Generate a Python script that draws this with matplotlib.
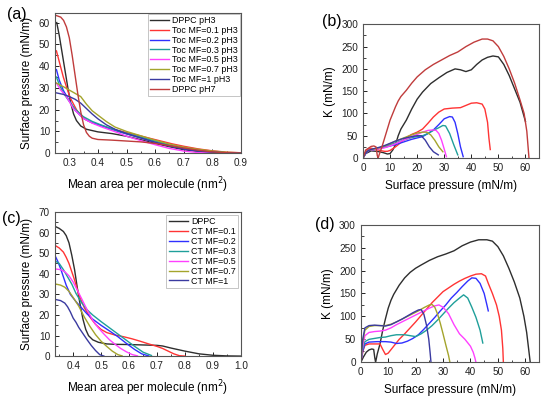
import matplotlib
matplotlib.use("Agg")
import matplotlib.pyplot as plt
from matplotlib.ticker import AutoMinorLocator, MultipleLocator

plt.rcParams['font.family'] = ['Liberation Sans', 'DejaVu Sans']

# ---------------- colours ----------------
C_BLACK = '#2e2e2e'
C_RED = '#ff3434'
C_BLUE = '#3030ff'
C_TEAL = '#1f9f9a'
C_MAG = '#ff40ff'
C_OLIVE = '#a4a42c'
C_NAVY = '#3a3aa0'
C_DRED = '#c03c3c'

# ---------------- panel (a) data ----------------
a_labels = ['DPPC pH3', 'Toc MF=0.1 pH3', 'Toc MF=0.2 pH3', 'Toc MF=0.3 pH3',
            'Toc MF=0.5 pH3', 'Toc MF=0.7 pH3', 'Toc MF=1 pH3', 'DPPC pH7']
a_dppc3_x = [0.256, 0.265, 0.275, 0.285, 0.295, 0.305, 0.315, 0.325, 0.34, 0.36, 0.40, 0.45, 0.50, 0.55, 0.60, 0.65, 0.70, 0.75, 0.80, 0.85, 0.90]
a_dppc3_y = [60, 54, 46, 38, 30, 23, 18, 15, 12.5, 11, 9.8, 9.0, 7.8, 6.2, 4.5, 3.0, 1.6, 0.8, 0.3, 0.1, 0.05]
a_mf01_x = [0.255, 0.265, 0.279, 0.29, 0.302, 0.315, 0.326, 0.34, 0.36, 0.38, 0.407, 0.435, 0.465, 0.50, 0.535, 0.58, 0.62, 0.66, 0.70, 0.75, 0.80, 0.85, 0.90]
a_mf01_y = [47, 42, 35, 30.5, 25.8, 22.5, 19.8, 17.5, 15.2, 14, 12.9, 11.8, 10.6, 9.5, 8.4, 6.9, 5.6, 4.3, 3.2, 2.0, 1.1, 0.5, 0.2]
a_mf02_x = [0.255, 0.265, 0.279, 0.296, 0.32, 0.349, 0.38, 0.407, 0.44, 0.47, 0.512, 0.55, 0.60, 0.65, 0.70, 0.75, 0.80, 0.85, 0.90]
a_mf02_y = [38.4, 33.5, 28.9, 25, 19.8, 16, 14, 12.9, 11.3, 10, 8.4, 7, 5.1, 3.4, 2.0, 1.1, 0.5, 0.2, 0.1]
a_mf03_x = [0.255, 0.265, 0.28, 0.296, 0.32, 0.349, 0.38, 0.407, 0.44, 0.47, 0.51, 0.55, 0.60, 0.65, 0.70, 0.75, 0.80, 0.85, 0.90]
a_mf03_y = [35, 31.5, 27.5, 24.5, 20.3, 16.8, 14.6, 13.2, 11.6, 10.3, 8.8, 7.4, 5.6, 3.8, 2.3, 1.3, 0.6, 0.2, 0.1]
a_mf05_x = [0.255, 0.27, 0.29, 0.314, 0.349, 0.38, 0.41, 0.44, 0.47, 0.50, 0.55, 0.60, 0.65, 0.70, 0.75, 0.80]
a_mf05_y = [32.2, 29, 26, 20.5, 16, 13.8, 12.2, 10.8, 9.4, 7.8, 5.8, 3.9, 2.2, 1.0, 0.3, 0.1]
a_mf07_x = [0.255, 0.28, 0.30, 0.32, 0.34, 0.36, 0.38, 0.40, 0.43, 0.46, 0.50, 0.55, 0.60, 0.65, 0.70, 0.75, 0.80, 0.85, 0.90]
a_mf07_y = [32.2, 30.5, 29, 27.5, 26, 22.5, 19.5, 17.5, 14.5, 12, 10, 8, 6, 4.2, 2.8, 1.8, 1.0, 0.4, 0.2]
a_mf1_x = [0.255, 0.28, 0.30, 0.32, 0.34, 0.36, 0.38, 0.40, 0.43, 0.46, 0.50, 0.55, 0.60, 0.65, 0.70, 0.75, 0.80, 0.85, 0.90]
a_mf1_y = [27.7, 27, 26, 24.8, 23, 20.5, 18, 15.8, 13, 11, 9, 7, 5, 3.3, 2, 1, 0.5, 0.2, 0.1]
a_dppc7_x = [0.255, 0.27, 0.28, 0.29, 0.30, 0.31, 0.32, 0.33, 0.34, 0.35, 0.36, 0.37, 0.38, 0.40, 0.45, 0.50, 0.55, 0.60, 0.65, 0.70, 0.75, 0.80, 0.85, 0.90]
a_dppc7_y = [63.2, 62.5, 61, 58, 53, 45, 36, 27, 19, 13, 9.5, 7.8, 6.9, 6.3, 6.0, 5.6, 5.2, 4.5, 3.5, 2.4, 1.4, 0.6, 0.2, 0.1]

# ---------------- panel (b) data ----------------
b_dppc3_x = [0, 1, 3, 5, 6, 7.5, 9, 10, 11, 12, 13, 14, 16, 18, 20, 22, 25, 28, 31, 34, 36, 38, 40, 42, 44, 46, 48, 50, 52, 54, 56, 58, 60]
b_dppc3_y = [0, 10, 16, 15, 14, 12, 9, 10, 18, 30, 50, 65, 85, 110, 132, 148, 167, 180, 192, 200, 198, 194, 198, 210, 220, 226, 229, 227, 210, 185, 155, 125, 82]
b_mf01_x = [0, 1, 2, 3, 5, 7, 8, 9, 10, 12, 14, 16, 18, 20, 22, 24, 26, 28, 30, 33, 36, 38, 40, 42, 44, 45, 46, 46.5, 47]
b_mf01_y = [0, 14, 20, 22, 19, 16, 15, 15, 17, 25, 35, 46, 53, 58, 65, 78, 92, 103, 110, 112, 113, 118, 123, 124, 121, 110, 80, 45, 19]
b_mf02_x = [0, 1, 2, 4, 6, 8, 10, 12, 15, 18, 20, 22, 24, 26, 28, 30, 32, 33, 34, 35, 36, 37]
b_mf02_y = [0, 10, 16, 19, 22, 24, 27, 30, 36, 42, 45, 48, 55, 63, 75, 88, 93, 92, 80, 55, 25, 3]
b_mf03_x = [0, 1, 2, 4, 6, 8, 10, 12, 15, 18, 20, 22, 24, 26, 28, 29.5, 30.5, 32, 33.5, 35]
b_mf03_y = [0, 12, 17, 20, 23, 26, 30, 34, 40, 46, 48, 50, 55, 62, 68, 73, 72, 55, 30, 7]
b_mf05_x = [0, 1, 2, 4, 6, 8, 10, 12, 15, 18, 20, 22, 24, 26, 27, 28, 29, 30, 30.8]
b_mf05_y = [0, 12, 17, 19, 21, 23, 27, 32, 40, 48, 53, 58, 62, 63, 62, 55, 40, 20, 3]
b_mf07_x = [0, 1, 2, 4, 6, 8, 10, 12, 15, 18, 20, 22, 23.5, 25, 26.5, 28, 29.5]
b_mf07_y = [0, 12, 17, 20, 23, 27, 32, 38, 45, 52, 56, 58, 58, 52, 40, 25, 14]
b_mf1_x = [0, 1, 2, 4, 6, 8, 10, 12, 15, 18, 20, 21.5, 23, 24.5, 26, 27.8]
b_mf1_y = [0, 12, 17, 21, 24, 28, 33, 38, 44, 48, 50, 50, 40, 25, 14, 7]
b_dppc7_x = [0, 1, 2, 3, 4, 4.8, 5.3, 5.6, 6, 7, 8, 9, 10, 11, 12, 13, 14, 16, 18, 20, 23, 26, 29, 32, 35, 38, 41, 44, 46, 48, 50, 52, 54, 56, 58, 59.5, 60.5, 61.3]
b_dppc7_y = [0, 18, 22, 26, 27, 25, 5, 0, 8, 25, 45, 65, 85, 100, 115, 128, 138, 152, 168, 182, 198, 210, 220, 230, 238, 250, 260, 267, 267, 263, 250, 228, 200, 168, 130, 100, 60, 0]

# ---------------- panel (c) data ----------------
c_labels = ['DPPC', 'CT MF=0.1', 'CT MF=0.2', 'CT MF=0.3', 'CT MF=0.5', 'CT MF=0.7', 'CT MF=1']
c_dppc_x = [0.338, 0.35, 0.365, 0.375, 0.385, 0.395, 0.405, 0.415, 0.425, 0.435, 0.445, 0.455, 0.47, 0.49, 0.52, 0.55, 0.60, 0.65, 0.70, 0.72, 0.75, 0.80, 0.85, 0.90, 0.95, 1.0]
c_dppc_y = [62.8, 62, 60.5, 58.5, 55, 49, 42, 33, 25, 18, 13, 10, 8, 6.8, 6, 5.8, 5.7, 5.5, 5.3, 5.0, 4.0, 2.5, 1.2, 0.5, 0.2, 0.1]
c_mf01_x = [0.338, 0.35, 0.365, 0.375, 0.385, 0.395, 0.405, 0.42, 0.44, 0.46, 0.48, 0.50, 0.52, 0.55, 0.58, 0.61, 0.64, 0.67, 0.70, 0.72, 0.74, 0.76, 0.78, 0.80]
c_mf01_y = [53.5, 52.5, 50.5, 48, 45, 41, 37, 30, 23.5, 19, 15.5, 13, 11.5, 10.3, 9.5, 8.5, 7.3, 6, 4.8, 3.8, 2.5, 1.2, 0.3, 0.1]
c_mf02_x = [0.338, 0.345, 0.355, 0.365, 0.375, 0.39, 0.41, 0.43, 0.45, 0.47, 0.50, 0.53, 0.56, 0.59, 0.62, 0.645, 0.67]
c_mf02_y = [48, 46, 42.5, 38.5, 34.5, 30, 26.5, 23.5, 20.5, 18, 15, 12.3, 9.5, 6.3, 3.3, 1.2, 0.2]
c_mf03_x = [0.338, 0.35, 0.365, 0.38, 0.395, 0.41, 0.43, 0.45, 0.47, 0.50, 0.53, 0.56, 0.59, 0.62, 0.65, 0.68]
c_mf03_y = [46, 45, 42, 38.5, 35, 30.5, 26, 22.5, 20, 16.8, 13.8, 10.8, 7.8, 4.8, 2, 0.4]
c_mf05_x = [0.338, 0.355, 0.37, 0.385, 0.40, 0.415, 0.43, 0.45, 0.47, 0.49, 0.51, 0.53, 0.55, 0.57, 0.59, 0.61, 0.63]
c_mf05_y = [42.3, 42, 41, 39, 36, 32, 28, 22.5, 17.5, 13.8, 10.8, 8, 5.8, 3.8, 2.2, 0.9, 0.2]
c_mf07_x = [0.338, 0.355, 0.37, 0.385, 0.40, 0.42, 0.44, 0.46, 0.48, 0.50, 0.52, 0.54, 0.56, 0.575]
c_mf07_y = [35, 34.5, 33.5, 31.5, 28.5, 24.3, 19, 14.5, 10.5, 7.3, 4.8, 2.5, 0.8, 0.2]
c_mf1_x = [0.338, 0.355, 0.37, 0.38, 0.39, 0.40, 0.41, 0.42, 0.435, 0.45, 0.465, 0.48, 0.495, 0.51]
c_mf1_y = [27.5, 27, 25.8, 24, 21.5, 18.5, 16.5, 14, 11, 8, 5.2, 2.8, 0.8, 0.1]

# ---------------- panel (d) data ----------------
d_dppc_x = [0, 1, 2, 3, 4, 4.7, 5.1, 5.4, 6, 7, 8, 9, 10, 11, 12, 14, 16, 18, 20, 22, 25, 28, 31, 34, 37, 40, 43, 46, 48, 50, 52, 54, 56, 58, 59.5, 60.5, 61.3, 61.8]
d_dppc_y = [0, 12, 22, 27, 29, 28, 10, 0, 18, 40, 70, 95, 118, 135, 148, 168, 184, 196, 205, 212, 222, 230, 236, 243, 254, 262, 267, 267, 264, 252, 232, 205, 175, 140, 100, 65, 25, 0]
d_mf01_x = [0, 0.8, 1.5, 3, 5, 7, 8, 9, 10, 12, 14, 16, 18, 20, 22, 24, 26, 28, 30, 32, 34, 36, 38, 40, 42, 44, 45.5, 46.5, 48, 49.5, 50.5, 51.3, 51.8, 52]
d_mf01_y = [0, 25, 37, 40, 40, 40, 28, 17, 20, 35, 50, 62, 75, 88, 102, 116, 130, 142, 154, 162, 170, 177, 183, 188, 192, 193, 188, 172, 150, 125, 100, 70, 30, 0]
d_mf02_x = [0, 0.7, 1.5, 3, 6, 9, 11, 13, 15, 17, 19, 21, 23, 25, 27, 29, 31, 33, 35, 37, 39, 40.5, 42, 43.5, 45, 46, 46.5]
d_mf02_y = [0, 25, 40, 44, 45, 45, 44, 41, 42, 46, 52, 60, 72, 85, 98, 112, 125, 140, 152, 165, 177, 184, 183, 172, 150, 125, 112]
d_mf03_x = [0, 0.7, 1.5, 3, 5, 7, 9, 11, 13, 16, 18, 20, 22, 24, 26, 28, 30, 32, 34, 36, 37.5, 39, 40.5, 42, 43.5, 44.5]
d_mf03_y = [0, 30, 45, 50, 52, 54, 55, 58, 60, 60, 58, 56, 62, 70, 80, 92, 105, 118, 130, 140, 147, 140, 120, 98, 70, 42]
d_mf05_x = [0, 0.7, 1.5, 3, 5, 7, 9, 11, 13, 15, 17, 19, 21, 23, 25, 27, 28.5, 30, 32, 34, 36, 38, 40, 41, 41.6, 42]
d_mf05_y = [0, 35, 58, 65, 67, 68, 70, 75, 82, 88, 94, 100, 106, 112, 118, 123, 125, 120, 106, 82, 62, 50, 35, 22, 10, 0]
d_mf07_x = [0, 0.7, 1.5, 3, 5, 7, 9, 11, 13, 15, 17, 19, 21, 23, 25, 26, 27, 28, 29, 30, 31, 32, 32.5]
d_mf07_y = [0, 45, 70, 78, 80, 80, 80, 83, 88, 94, 100, 106, 112, 119, 125, 126, 120, 105, 85, 62, 38, 15, 0]
d_mf1_x = [0, 0.7, 1.5, 3, 5, 7, 9, 11, 13, 15, 17, 19, 21, 22, 23, 24, 24.8, 25.3, 25.6]
d_mf1_y = [0, 50, 75, 80, 81, 80, 79, 82, 88, 94, 101, 108, 114, 115, 105, 80, 50, 20, 0]

LW = 1.0
TICK_FS = 7.2
LAB_FS = 8.5
LEG_FS = 6.4
PANEL_FS = 11.5

fig = plt.figure(figsize=(5.5, 3.99), dpi=100)


def style(ax):
    for s in ax.spines.values():
        s.set_color('#555555')
        s.set_linewidth(0.8)
    ax.tick_params(direction='in', which='both', top=False, right=False,
                   labelsize=TICK_FS, colors='#222222')
    ax.tick_params(which='major', length=3, width=0.7)
    ax.tick_params(which='minor', length=1.8, width=0.6)
    ax.xaxis.set_minor_locator(AutoMinorLocator(2))
    ax.yaxis.set_minor_locator(AutoMinorLocator(2))


def make_legend(ax, pad):
    leg = ax.legend(loc='upper right', fontsize=LEG_FS, frameon=True, fancybox=False,
                    edgecolor='#aaaaaa', handlelength=2.2, handletextpad=0.3,
                    labelspacing=0.1, borderpad=0.25, borderaxespad=pad)
    leg.get_frame().set_linewidth(0.6)


# (a)
axa = fig.add_axes([0.1, 0.616, 0.338, 0.352])
series_a = [(a_dppc3_x, a_dppc3_y, C_BLACK), (a_mf01_x, a_mf01_y, C_RED),
            (a_mf02_x, a_mf02_y, C_BLUE), (a_mf03_x, a_mf03_y, C_TEAL),
            (a_mf05_x, a_mf05_y, C_MAG), (a_mf07_x, a_mf07_y, C_OLIVE),
            (a_mf1_x, a_mf1_y, C_NAVY), (a_dppc7_x, a_dppc7_y, C_DRED)]
for (x, y, c), lab in zip(series_a, a_labels):
    axa.plot(x, y, color=c, lw=LW, label=lab)
axa.set_xlim(0.25, 0.9)
axa.set_ylim(0, 64.5)
axa.xaxis.set_major_locator(MultipleLocator(0.1))
axa.yaxis.set_major_locator(MultipleLocator(10))
style(axa)
axa.set_xticks([0.3, 0.4, 0.5, 0.6, 0.7, 0.8, 0.9])
axa.set_xlabel('Mean area per molecule (nm$^2$)', fontsize=LAB_FS, labelpad=5)
axa.set_ylabel('Surface pressure (mN/m)', fontsize=LAB_FS, labelpad=4)
make_legend(axa, 0.1)
fig.text(0.012, 0.952, '(a)', fontsize=PANEL_FS)

# (b)
axb = fig.add_axes([0.66, 0.604, 0.32, 0.335])
series_b = [(b_dppc3_x, b_dppc3_y, C_BLACK), (b_mf01_x, b_mf01_y, C_RED),
            (b_mf02_x, b_mf02_y, C_BLUE), (b_mf03_x, b_mf03_y, C_TEAL),
            (b_mf05_x, b_mf05_y, C_MAG), (b_mf07_x, b_mf07_y, C_OLIVE),
            (b_mf1_x, b_mf1_y, C_NAVY), (b_dppc7_x, b_dppc7_y, C_DRED)]
for x, y, c in series_b:
    axb.plot(x, y, color=c, lw=LW)
axb.set_xlim(0, 65)
axb.set_ylim(0, 300)
axb.xaxis.set_major_locator(MultipleLocator(10))
axb.yaxis.set_major_locator(MultipleLocator(50))
style(axb)
axb.set_xlabel('Surface pressure (mN/m)', fontsize=LAB_FS, labelpad=5)
axb.set_ylabel('K (mN/m)', fontsize=LAB_FS, labelpad=4)
fig.text(0.585, 0.935, '(b)', fontsize=PANEL_FS)

# (c)
axc = fig.add_axes([0.1, 0.107, 0.338, 0.362])
series_c = [(c_dppc_x, c_dppc_y, C_BLACK), (c_mf01_x, c_mf01_y, C_RED),
            (c_mf02_x, c_mf02_y, C_BLUE), (c_mf03_x, c_mf03_y, C_TEAL),
            (c_mf05_x, c_mf05_y, C_MAG), (c_mf07_x, c_mf07_y, C_OLIVE),
            (c_mf1_x, c_mf1_y, C_NAVY)]
for (x, y, c), lab in zip(series_c, c_labels):
    axc.plot(x, y, color=c, lw=LW, label=lab)
axc.set_xlim(0.335, 1.0)
axc.set_ylim(0, 70)
axc.xaxis.set_major_locator(MultipleLocator(0.1))
axc.yaxis.set_major_locator(MultipleLocator(10))
style(axc)
axc.set_xticks([0.4, 0.5, 0.6, 0.7, 0.8, 0.9, 1.0])
axc.set_xlabel('Mean area per molecule (nm$^2$)', fontsize=LAB_FS, labelpad=5)
axc.set_ylabel('Surface pressure (mN/m)', fontsize=LAB_FS, labelpad=4)
make_legend(axc, 0.35)
fig.text(0.004, 0.44, '(c)', fontsize=PANEL_FS)

# (d)
axd = fig.add_axes([0.656, 0.092, 0.324, 0.345])
series_d = [(d_dppc_x, d_dppc_y, C_BLACK), (d_mf01_x, d_mf01_y, C_RED),
            (d_mf02_x, d_mf02_y, C_BLUE), (d_mf03_x, d_mf03_y, C_TEAL),
            (d_mf05_x, d_mf05_y, C_MAG), (d_mf07_x, d_mf07_y, C_OLIVE),
            (d_mf1_x, d_mf1_y, C_NAVY)]
for x, y, c in series_d:
    axd.plot(x, y, color=c, lw=LW)
axd.set_xlim(0, 65)
axd.set_ylim(0, 300)
axd.xaxis.set_major_locator(MultipleLocator(10))
axd.yaxis.set_major_locator(MultipleLocator(50))
style(axd)
axd.set_xlabel('Surface pressure (mN/m)', fontsize=LAB_FS, labelpad=5)
axd.set_ylabel('K (mN/m)', fontsize=LAB_FS, labelpad=4)
fig.text(0.573, 0.425, '(d)', fontsize=PANEL_FS)

fig.savefig('out.png', dpi=100)
